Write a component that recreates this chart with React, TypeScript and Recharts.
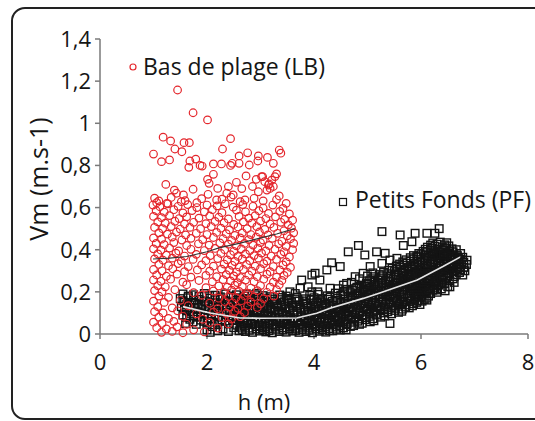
import { ComposedChart, Scatter, XAxis, YAxis } from 'recharts'

const FONT = '"Open Sans", sans-serif'
const RED = '#e4262c'
const INK = '#141414'
const AXIS = '#7a7a7a'

const xTicks = [0, 2, 4, 6, 8]
const yTicks = [0, 0.2, 0.4, 0.6, 0.8, 1, 1.2, 1.4]

// Bas de plage (LB) : [h, Vm]
const lbPoints: [number, number][] = [
  [1.45,1.158],[1.74,1.05],[2.01,1.016],[1.18,0.934],[1.32,0.916],[1.40,0.878],[1.57,0.908],[1.67,0.908],
  [1.53,0.865],[1.00,0.854],[1.15,0.818],[1.30,0.826],[1.68,0.821],[1.66,0.791],[1.79,0.83],[1.87,0.80],
  [1.91,0.797],[2.12,0.807],[2.27,0.807],[2.44,0.927],[2.29,0.878],[2.44,0.80],[2.47,0.81],[2.60,0.845],
  [2.76,0.86],[2.96,0.845],[2.95,0.821],[3.13,0.838],[3.24,0.81],[3.35,0.873],[3.38,0.858],[2.60,0.81],
  [2.79,0.802],[1.23,0.71],[1.39,0.683],[1.43,0.668],[1.74,0.687],[2.01,0.734],[2.04,0.715],[2.12,0.758],
  [2.20,0.691],[2.37,0.668],[2.49,0.66],[2.73,0.75],[2.92,0.734],[3.04,0.747],[3.16,0.712],[3.24,0.70],
  [3.30,0.76],[3.35,0.655],[3.12,0.683],[2.96,0.675],[1.59,0.633],[1.06,0.623],[1.81,0.623],[2.02,0.663],
  [2.71,0.636],[3.02,0.747],[3.08,0.723],[3.15,0.707],[3.21,0.73],[3.18,0.691],[3.27,0.747],[1.25,0.62],
  [1.56,0.66],[2.28,0.64],[2.40,0.70],[2.55,0.72],[2.85,0.70],[2.65,0.69],
  [1.02,0.645],[1.10,0.632],[1.33,0.648],[1.52,0.628],[1.90,0.642],[2.18,0.636],[2.45,0.65],[2.62,0.628],
  [2.88,0.644],[3.05,0.632],[3.30,0.638],[3.48,0.62],
  [0.99,0.612],[1.12,0.604],[1.27,0.618],[1.46,0.606],[1.64,0.614],[1.81,0.6],[2.00,0.612],[2.19,0.608],
  [2.34,0.618],[2.49,0.602],[2.67,0.614],[2.86,0.606],[3.05,0.598],[3.23,0.612],[3.42,0.596],
  [1.05,0.585],[1.20,0.578],[1.38,0.59],[1.55,0.575],[1.72,0.586],[1.95,0.58],[2.10,0.59],[2.28,0.576],
  [2.55,0.588],[2.72,0.58],[2.97,0.585],[3.15,0.572],[3.36,0.582],[3.54,0.57],
  [1.00,0.558],[1.15,0.552],[1.30,0.562],[1.48,0.548],[1.62,0.556],[1.85,0.55],[2.05,0.56],[2.22,0.554],
  [2.40,0.546],[2.60,0.558],[2.78,0.55],[2.90,0.562],[3.10,0.548],[3.28,0.556],[3.45,0.544],
  [1.08,0.532],[1.22,0.526],[1.40,0.535],[1.58,0.522],[1.75,0.53],[1.98,0.524],[2.15,0.534],[2.32,0.528],
  [2.50,0.52],[2.68,0.532],[2.84,0.526],[3.00,0.536],[3.18,0.522],[3.38,0.53],[3.52,0.518],[3.60,0.54],
  [1.02,0.506],[1.17,0.5],[1.33,0.51],[1.50,0.498],[1.68,0.506],[1.88,0.5],[2.08,0.51],[2.26,0.502],
  [2.42,0.494],[2.58,0.508],[2.75,0.5],[2.93,0.51],[3.08,0.496],[3.25,0.506],[3.44,0.49],[3.58,0.502],
  [1.10,0.48],[1.26,0.474],[1.43,0.484],[1.60,0.47],[1.80,0.478],[2.00,0.472],[2.18,0.482],[2.36,0.476],
  [2.52,0.468],[2.66,0.48],[2.82,0.472],[2.98,0.484],[3.14,0.47],[3.32,0.478],[3.50,0.466],[3.62,0.48],
  [1.00,0.456],[1.15,0.45],[1.35,0.46],[1.53,0.446],[1.70,0.454],[1.92,0.448],[2.12,0.458],[2.30,0.452],
  [2.46,0.444],[2.62,0.456],[2.78,0.448],[2.92,0.46],[3.05,0.446],[3.22,0.454],[3.40,0.44],[3.56,0.452],
  [1.05,0.43],[1.20,0.424],[1.38,0.434],[1.62,0.42],[1.84,0.428],[2.04,0.422],[2.24,0.432],[2.40,0.426],
  [2.55,0.418],[2.70,0.43],[2.86,0.422],[3.00,0.434],[3.16,0.42],[3.34,0.428],[3.48,0.416],[3.62,0.43],
  [1.00,0.404],[1.14,0.398],[1.30,0.408],[1.47,0.394],[1.70,0.402],[1.95,0.396],[2.15,0.406],[2.33,0.4],
  [2.50,0.392],[2.64,0.404],[2.80,0.396],[2.95,0.408],[3.10,0.394],[3.27,0.402],[3.44,0.39],[3.60,0.4],
  [1.08,0.38],[1.24,0.374],[1.42,0.384],[1.58,0.37],[1.80,0.378],[2.06,0.372],[2.26,0.382],[2.44,0.376],
  [2.58,0.368],[2.72,0.38],[2.88,0.372],[3.02,0.384],[3.20,0.37],[3.38,0.378],[3.54,0.366],
  [1.02,0.356],[1.18,0.35],[1.35,0.36],[1.52,0.346],[1.74,0.354],[1.98,0.348],[2.20,0.358],[2.38,0.352],
  [2.52,0.344],[2.66,0.356],[2.80,0.348],[2.96,0.36],[3.12,0.346],[3.30,0.354],[3.48,0.342],
  [1.10,0.33],[1.28,0.324],[1.46,0.334],[1.65,0.32],[1.90,0.328],[2.12,0.322],[2.32,0.332],[2.47,0.326],
  [2.60,0.318],[2.74,0.33],[2.90,0.322],[3.06,0.334],[3.24,0.32],[3.42,0.328],[3.56,0.316],
  [1.00,0.306],[1.16,0.3],[1.36,0.31],[1.58,0.296],[1.82,0.304],[2.05,0.298],[2.27,0.308],[2.42,0.302],
  [2.55,0.294],[2.68,0.306],[2.84,0.298],[3.00,0.31],[3.18,0.296],[3.36,0.304],[3.50,0.292],
  [1.06,0.28],[1.24,0.274],[1.44,0.284],[1.70,0.27],[1.98,0.278],[2.18,0.272],[2.36,0.282],[2.50,0.276],
  [2.62,0.268],[2.78,0.28],[2.94,0.272],[3.12,0.284],[3.30,0.27],[3.44,0.278],
  [1.00,0.256],[1.14,0.25],[1.32,0.26],[1.55,0.246],[1.85,0.254],[2.10,0.248],[2.30,0.258],[2.44,0.252],
  [2.57,0.244],[2.72,0.256],[2.88,0.248],[3.06,0.26],[3.24,0.246],[3.40,0.254],
  [1.08,0.23],[1.22,0.224],[1.62,0.234],[1.98,0.22],[2.22,0.228],[2.38,0.222],[2.52,0.232],[2.66,0.226],
  [2.82,0.218],[3.00,0.23],[3.18,0.222],[3.35,0.234],
  [1.02,0.206],[1.16,0.2],[1.40,0.21],[1.75,0.196],[2.12,0.204],[2.32,0.198],[2.46,0.208],[2.60,0.202],
  [2.76,0.194],[2.94,0.206],[3.12,0.198],[3.30,0.21],
  [1.10,0.18],[1.28,0.174],[1.90,0.184],[2.22,0.17],[2.40,0.178],[2.54,0.172],[2.70,0.182],[2.88,0.176],
  [3.06,0.168],[3.25,0.18],
  [1.00,0.156],[1.20,0.15],[1.50,0.16],[2.05,0.146],[2.33,0.154],[2.48,0.148],[2.64,0.158],[2.82,0.152],[3.00,0.144],
  [1.08,0.13],[1.35,0.124],[1.65,0.134],[2.20,0.12],[2.42,0.128],[2.58,0.122],[2.76,0.132],[2.94,0.126],
  [1.02,0.106],[1.18,0.1],[1.45,0.11],[1.80,0.096],[2.12,0.104],[2.36,0.098],[2.52,0.108],[2.70,0.102],
  [1.10,0.08],[1.28,0.074],[1.55,0.084],[1.92,0.07],[2.28,0.078],[2.46,0.072],[2.62,0.082],
  [1.00,0.056],[1.16,0.05],[1.38,0.06],[1.62,0.046],[2.05,0.054],[2.40,0.048],
  [1.06,0.03],[1.24,0.024],[1.44,0.034],[1.75,0.02],[2.20,0.028],
  [1.15,0.008],[1.35,0.012],[1.55,0.006],[1.95,0.01],
]

// Petits Fonds (PF) : [h, Vm]
const pfPoints: [number, number][] = [
  [1.55,0.19],[1.75,0.186],[1.95,0.192],[2.15,0.184],[2.35,0.19],[2.55,0.186],
  [1.50,0.168],[1.65,0.172],[1.85,0.164],[2.05,0.17],[2.25,0.166],[2.45,0.174],[2.65,0.168],
  [1.58,0.15],[1.78,0.146],[1.98,0.154],[2.18,0.148],[2.38,0.152],[2.58,0.144],
  [1.52,0.13],[1.70,0.126],[1.90,0.134],[2.10,0.128],[2.30,0.132],[2.50,0.124],[2.70,0.13],
  [1.62,0.11],[1.82,0.106],[2.02,0.114],[2.22,0.108],[2.42,0.112],[2.62,0.104],
  [1.55,0.09],[1.75,0.086],[1.95,0.094],[2.15,0.088],[2.35,0.092],[2.55,0.084],
  [1.68,0.07],[1.88,0.066],[2.08,0.072],[2.28,0.068],[2.48,0.064],
  [1.60,0.05],[1.80,0.046],[2.00,0.052],[2.20,0.044],[2.40,0.05],
  [2.00,0.02],[2.06,0.008],[2.30,0.024],[2.50,0.03],
  [1.65,0.18],[1.85,0.178],[2.05,0.182],[2.25,0.176],[2.45,0.18],[1.55,0.158],[1.75,0.16],[1.95,0.156],
  [2.15,0.162],[2.35,0.158],[2.55,0.16],[1.62,0.14],[1.82,0.138],[2.02,0.142],[2.22,0.136],[2.42,0.14],
  [1.58,0.118],[1.78,0.12],[1.98,0.116],[2.18,0.122],[2.38,0.118],[2.58,0.12],[1.68,0.098],[1.88,0.1],
  [2.08,0.096],[2.28,0.102],[2.48,0.098],[1.62,0.078],[1.82,0.08],[2.02,0.076],[2.22,0.082],[2.42,0.078],
  [1.74,0.058],[1.94,0.06],[2.14,0.056],[2.34,0.062],[2.10,0.035],[2.20,0.015],[2.40,0.012],[2.60,0.015],
  [2.72,0.012],[2.85,0.008],[2.98,0.014],[3.10,0.01],[3.22,0.006],[3.35,0.012],[3.48,0.009],[3.60,0.014],
  [3.72,0.008],[3.85,0.012],[3.97,0.006],[4.10,0.013],[4.22,0.009],[4.35,0.015],
  [2.66,0.022],[2.79,0.018],[2.92,0.024],[3.04,0.02],[3.16,0.016],[3.29,0.023],[3.42,0.019],[3.54,0.025],
  [3.66,0.017],[3.78,0.022],[3.91,0.018],[4.04,0.024],[4.16,0.02],[4.29,0.016],[4.42,0.023],[4.60,0.02],
  [2.62,0.032],[2.78,0.028],[2.92,0.035],[3.04,0.03],[3.16,0.026],[3.28,0.033],[3.42,0.029],[3.54,0.035],
  [3.66,0.027],[3.79,0.032],[3.91,0.028],[4.03,0.034],[4.16,0.03],[4.28,0.026],[4.41,0.033],[4.55,0.029],[4.68,0.036],
  [2.56,0.042],[2.70,0.038],[2.85,0.045],[2.98,0.04],[3.10,0.036],[3.22,0.043],[3.35,0.039],[3.48,0.045],
  [3.60,0.037],[3.72,0.042],[3.85,0.038],[3.97,0.044],[4.10,0.04],[4.22,0.036],[4.35,0.043],[4.48,0.039],
  [4.61,0.045],[4.74,0.04],[4.85,0.046],
  [2.68,0.052],[2.82,0.048],[2.96,0.055],[3.10,0.05],[3.24,0.046],[3.38,0.054],[3.50,0.049],[3.62,0.056],
  [3.75,0.047],[3.88,0.052],[4.00,0.048],[4.12,0.055],[4.25,0.05],[4.38,0.046],[4.50,0.053],[4.62,0.049],
  [4.75,0.056],[4.90,0.051],[5.05,0.058],
  [2.62,0.062],[2.76,0.058],[2.89,0.065],[3.03,0.06],[3.17,0.056],[3.31,0.063],[3.44,0.059],[3.56,0.066],
  [3.69,0.057],[3.82,0.062],[3.94,0.058],[4.06,0.065],[4.19,0.06],[4.32,0.056],[4.44,0.063],[4.56,0.059],
  [4.69,0.066],[4.82,0.061],[4.96,0.068],[5.12,0.063],
  [2.60,0.072],[2.74,0.068],[2.88,0.075],[3.02,0.07],[3.14,0.066],[3.28,0.073],[3.44,0.069],[3.56,0.076],
  [3.70,0.067],[3.82,0.072],[3.95,0.068],[4.07,0.075],[4.20,0.07],[4.33,0.066],[4.46,0.073],[4.58,0.069],
  [4.70,0.076],[4.84,0.071],[4.97,0.078],[5.10,0.073],[5.25,0.08],
  [2.54,0.082],[2.68,0.078],[2.81,0.085],[2.95,0.08],[3.08,0.076],[3.21,0.083],[3.36,0.079],[3.50,0.086],
  [3.63,0.077],[3.76,0.082],[3.89,0.078],[4.01,0.085],[4.14,0.08],[4.27,0.076],[4.40,0.083],[4.52,0.079],
  [4.64,0.086],[4.77,0.081],[4.90,0.088],[5.04,0.084],[5.17,0.09],[5.32,0.086],
  [2.66,0.092],[2.80,0.088],[2.94,0.095],[3.08,0.09],[3.20,0.086],[3.34,0.093],[3.48,0.089],[3.62,0.096],
  [3.76,0.087],[3.90,0.092],[4.02,0.088],[4.15,0.095],[4.28,0.09],[4.40,0.086],[4.52,0.093],[4.65,0.089],
  [4.78,0.096],[4.92,0.091],[5.04,0.098],[5.18,0.094],[5.30,0.1],[5.45,0.096],[5.58,0.103],
  [2.60,0.102],[2.74,0.098],[2.88,0.105],[3.01,0.1],[3.14,0.096],[3.27,0.103],[3.41,0.099],[3.55,0.106],
  [3.69,0.097],[3.83,0.102],[3.96,0.098],[4.09,0.105],[4.22,0.1],[4.34,0.096],[4.46,0.103],[4.59,0.099],
  [4.71,0.106],[4.85,0.101],[4.98,0.108],[5.11,0.104],[5.24,0.11],[5.38,0.106],[5.51,0.112],[5.64,0.108],
  [2.58,0.112],[2.72,0.108],[2.86,0.115],[3.00,0.11],[3.12,0.106],[3.26,0.113],[3.40,0.109],[3.54,0.116],
  [3.68,0.107],[3.82,0.112],[3.96,0.108],[4.10,0.115],[4.24,0.11],[4.36,0.106],[4.48,0.113],[4.60,0.109],
  [4.73,0.116],[4.86,0.111],[5.00,0.118],[5.12,0.114],[5.25,0.12],[5.38,0.116],[5.52,0.122],[5.65,0.118],[5.78,0.124],
  [2.65,0.122],[2.79,0.118],[2.93,0.125],[3.07,0.12],[3.19,0.116],[3.33,0.123],[3.47,0.119],[3.61,0.126],
  [3.75,0.117],[3.89,0.122],[4.03,0.118],[4.17,0.125],[4.30,0.12],[4.42,0.116],[4.54,0.123],[4.66,0.119],
  [4.79,0.126],[4.92,0.121],[5.06,0.128],[5.18,0.124],[5.31,0.13],[5.45,0.126],[5.58,0.132],[5.71,0.128],[5.84,0.134],
  [2.64,0.132],[2.78,0.128],[2.92,0.135],[3.06,0.13],[3.18,0.126],[3.32,0.133],[3.46,0.129],[3.60,0.136],
  [3.74,0.127],[3.88,0.132],[4.00,0.128],[4.14,0.135],[4.30,0.13],[4.44,0.126],[4.56,0.133],[4.68,0.129],
  [4.82,0.136],[4.95,0.131],[5.08,0.138],[5.20,0.134],[5.34,0.14],[5.48,0.136],[5.60,0.142],[5.72,0.138],
  [5.86,0.144],[5.98,0.14],
  [2.57,0.142],[2.71,0.138],[2.85,0.145],[2.99,0.14],[3.12,0.136],[3.25,0.143],[3.39,0.139],[3.53,0.146],
  [3.67,0.137],[3.81,0.142],[3.94,0.138],[4.07,0.145],[4.22,0.14],[4.37,0.136],[4.50,0.143],[4.62,0.139],
  [4.75,0.146],[4.88,0.141],[5.01,0.148],[5.14,0.144],[5.27,0.15],[5.41,0.146],[5.54,0.152],[5.66,0.148],
  [5.79,0.154],[5.92,0.15],[6.02,0.156],
  [2.70,0.152],[2.84,0.148],[3.00,0.155],[3.14,0.15],[3.30,0.146],[3.44,0.153],[3.58,0.149],[3.72,0.156],
  [3.86,0.147],[4.05,0.152],[4.20,0.148],[4.34,0.155],[4.50,0.15],[4.62,0.146],[4.76,0.153],[4.90,0.149],
  [5.02,0.156],[5.15,0.151],[5.28,0.158],[5.42,0.154],[5.56,0.16],[5.68,0.156],[5.82,0.162],[5.94,0.158],[6.06,0.164],
  [2.66,0.162],[2.77,0.158],[2.92,0.165],[3.07,0.16],[3.22,0.156],[3.37,0.163],[3.51,0.159],[3.65,0.166],
  [3.79,0.157],[3.95,0.162],[4.12,0.158],[4.27,0.165],[4.42,0.16],[4.56,0.156],[4.69,0.163],[4.83,0.159],
  [4.96,0.166],[5.08,0.161],[5.21,0.168],[5.35,0.164],[5.49,0.17],[5.61,0.166],[5.75,0.172],[5.88,0.168],
  [6.00,0.174],[6.10,0.17],
  [2.62,0.172],[2.80,0.168],[2.96,0.175],[3.12,0.17],[3.26,0.166],[3.40,0.173],[3.52,0.169],[3.68,0.174],
  [3.84,0.167],[4.00,0.172],[4.16,0.168],[4.30,0.175],[4.44,0.17],[4.58,0.166],[4.72,0.173],[4.86,0.169],
  [4.98,0.176],[5.10,0.171],[5.24,0.178],[5.38,0.174],[5.52,0.18],[5.64,0.176],[5.78,0.182],[5.90,0.178],
  [6.02,0.184],[6.14,0.18],
  [2.70,0.18],[3.05,0.182],[3.48,0.18],[3.92,0.183],[4.25,0.181],[4.50,0.184],[4.64,0.18],[4.77,0.186],
  [4.90,0.182],[5.02,0.188],[5.15,0.184],[5.28,0.19],[5.42,0.186],[5.55,0.192],[5.68,0.188],[5.81,0.194],
  [5.94,0.19],[6.06,0.196],[6.18,0.192],[6.30,0.198],
  [2.74,0.19],[2.90,0.186],[3.65,0.192],[4.08,0.188],[4.40,0.194],[4.54,0.19],[4.68,0.196],[4.82,0.192],
  [4.94,0.198],[5.06,0.194],[5.20,0.2],[5.34,0.196],[5.48,0.202],[5.60,0.198],[5.74,0.204],[5.86,0.2],
  [5.98,0.206],[6.10,0.202],[6.22,0.208],
  [4.56,0.202],[4.72,0.206],[4.86,0.203],[4.99,0.208],[5.12,0.204],[5.25,0.21],[5.39,0.206],[5.52,0.212],
  [5.65,0.208],[5.78,0.214],[5.90,0.21],[6.02,0.216],[6.14,0.212],[6.26,0.218],[6.38,0.214],
  [4.62,0.212],[4.78,0.216],[4.92,0.213],[5.04,0.218],[5.16,0.214],[5.30,0.22],[5.44,0.216],[5.56,0.222],
  [5.70,0.218],[5.82,0.224],[5.94,0.22],[6.06,0.226],[6.18,0.222],[6.30,0.228],
  [4.80,0.222],[4.96,0.226],[5.08,0.223],[5.21,0.228],[5.34,0.224],[5.47,0.23],[5.60,0.226],[5.72,0.232],
  [5.85,0.228],[5.97,0.234],[6.09,0.23],[6.21,0.236],[6.33,0.232],[6.44,0.238],
  [4.88,0.232],[5.00,0.236],[5.12,0.233],[5.26,0.238],[5.40,0.234],[5.52,0.24],[5.66,0.236],[5.78,0.242],
  [5.90,0.238],[6.02,0.244],[6.14,0.24],[6.26,0.246],[6.38,0.242],
  [4.98,0.242],[5.14,0.246],[5.28,0.243],[5.42,0.248],[5.56,0.244],[5.68,0.25],[5.80,0.246],[5.92,0.252],
  [6.04,0.248],[6.16,0.254],[6.28,0.25],[6.40,0.256],[6.53,0.252],
  [5.04,0.252],[5.20,0.256],[5.34,0.253],[5.48,0.258],[5.62,0.254],[5.74,0.26],[5.86,0.256],[5.98,0.262],
  [6.10,0.258],[6.22,0.264],[6.34,0.26],[6.46,0.266],[6.60,0.262],
  [5.08,0.262],[5.24,0.266],[5.40,0.263],[5.54,0.268],[5.66,0.264],[5.78,0.27],[5.90,0.266],[6.02,0.272],
  [6.14,0.268],[6.26,0.274],[6.38,0.27],[6.50,0.276],[6.62,0.272],
  [5.12,0.272],[5.28,0.276],[5.44,0.273],[5.58,0.278],[5.70,0.274],[5.82,0.28],[5.94,0.276],[6.06,0.282],
  [6.18,0.278],[6.30,0.284],[6.42,0.28],[6.54,0.286],[6.66,0.282],
  [5.22,0.282],[5.38,0.286],[5.52,0.283],[5.66,0.288],[5.76,0.284],[5.88,0.29],[6.00,0.286],[6.12,0.292],
  [6.24,0.288],[6.36,0.294],[6.48,0.29],[6.60,0.296],[6.72,0.292],
  [5.30,0.292],[5.50,0.296],[5.64,0.293],[5.78,0.298],[5.90,0.294],[6.02,0.3],[6.14,0.296],[6.26,0.302],
  [6.38,0.298],[6.50,0.304],[6.62,0.3],[6.74,0.306],
  [5.40,0.302],[5.56,0.306],[5.70,0.303],[5.84,0.308],[5.96,0.304],[6.08,0.31],[6.20,0.306],[6.32,0.312],
  [6.44,0.308],[6.56,0.314],[6.68,0.31],[6.80,0.316],
  [5.46,0.312],[5.62,0.316],[5.76,0.313],[5.88,0.318],[6.00,0.314],[6.12,0.32],[6.24,0.316],[6.36,0.322],
  [6.48,0.318],[6.60,0.324],[6.72,0.32],
  [5.54,0.322],[5.68,0.326],[5.82,0.323],[5.94,0.328],[6.06,0.324],[6.18,0.33],[6.30,0.326],[6.42,0.332],
  [6.54,0.328],[6.66,0.334],[6.76,0.33],
  [5.60,0.332],[5.74,0.336],[5.88,0.333],[6.00,0.338],[6.12,0.334],[6.24,0.34],[6.36,0.336],[6.48,0.342],
  [6.60,0.338],[6.70,0.344],[6.80,0.34],
  [5.66,0.342],[5.80,0.346],[5.94,0.343],[6.06,0.348],[6.18,0.344],[6.30,0.35],[6.42,0.346],[6.54,0.352],
  [6.64,0.348],[6.75,0.354],
  [5.72,0.352],[5.86,0.356],[6.00,0.353],[6.12,0.358],[6.24,0.354],[6.36,0.36],[6.48,0.356],[6.58,0.362],
  [6.70,0.358],[6.78,0.364],
  [5.80,0.362],[5.94,0.366],[6.07,0.363],[6.20,0.368],[6.32,0.364],[6.44,0.37],[6.56,0.366],[6.68,0.372],
  [5.86,0.372],[6.00,0.376],[6.14,0.373],[6.26,0.378],[6.38,0.374],[6.50,0.38],[6.62,0.376],[6.74,0.382],
  [5.96,0.382],[6.10,0.386],[6.24,0.383],[6.36,0.388],[6.48,0.384],[6.60,0.39],
  [6.04,0.392],[6.18,0.396],[6.30,0.393],[6.42,0.398],[6.54,0.394],[6.66,0.4],
  [6.08,0.402],[6.20,0.406],[6.34,0.403],[6.46,0.408],[6.58,0.404],
  [6.12,0.412],[6.26,0.416],[6.40,0.413],[6.52,0.418],
  [6.18,0.422],[6.30,0.426],[6.44,0.423],
  [6.22,0.432],[6.36,0.436],[6.48,0.433],
  [6.50,0.225],[6.45,0.205],[6.62,0.245],[4.70,0.245],[4.85,0.262],[5.00,0.275],[5.10,0.29],[4.55,0.232],
  [4.45,0.215],[6.85,0.33],[6.86,0.35],[6.82,0.30],[6.78,0.28],
  [5.27,0.486],[5.61,0.47],[5.89,0.478],[6.11,0.478],[6.26,0.478],[6.34,0.50],[4.83,0.42],[4.64,0.39],
  [4.95,0.375],[5.17,0.39],[5.33,0.383],[5.67,0.42],[5.83,0.438],[4.33,0.338],[4.49,0.32],[4.24,0.304],
  [4.02,0.288],[3.96,0.28],[3.77,0.256],[4.11,0.256],[3.74,0.217],[3.96,0.20],[4.30,0.217],[4.61,0.24],
  [4.77,0.272],[4.92,0.288],[5.05,0.32],[5.27,0.335],[5.42,0.351],[5.55,0.359],[5.92,0.367],[6.42,0.375],
  [6.54,0.224],[6.29,0.209],[6.11,0.161],[5.42,0.05],[5.11,0.106],[4.49,0.019],[2.93,0.193],[3.18,0.177],
  [3.36,0.185],[3.55,0.20],[3.89,0.224],[4.07,0.20],
]

// trend curves
const lbTrend: [number, number][] = [
  [0.99,0.356],[1.3,0.36],[1.62,0.368],[2.0,0.39],[2.24,0.41],[2.6,0.43],[2.99,0.455],[3.3,0.475],[3.64,0.5],
]
const pfTrend: [number, number][] = [
  [1.55,0.13],[2.06,0.1],[2.62,0.076],[3.0,0.075],[3.68,0.076],[4.05,0.098],[4.3,0.122],[4.92,0.169],
  [5.23,0.195],[5.93,0.256],[6.41,0.32],[6.73,0.365],
]

const toRows = (pts: [number, number][]) => pts.map(([h, v]) => ({ h, v }))

const fmtY = (v: number) => String(v).replace('.', ',')

function Ring(props: any) {
  const { cx, cy } = props
  return <circle cx={cx} cy={cy} r={3.8} fill="none" stroke={RED} strokeWidth={1.2} />
}

function Box(props: any) {
  const { cx, cy } = props
  return <rect x={cx - 3.8} y={cy - 3.8} width={7.6} height={7.6} fill="none" stroke={INK} strokeWidth={1.4} />
}

const NoDot = () => <g />

const tickStyle = { fontSize: 22, fill: '#151515', fontFamily: FONT }

export default function App() {
  return (
    <div style={{ position: 'absolute', left: 0, top: 0, width: 535, height: 421, overflow: 'hidden', background: '#fff' }}>
      <div
        style={{
          position: 'absolute',
          left: 11,
          top: 7,
          width: 600,
          height: 413,
          boxSizing: 'border-box',
          border: '2px solid #222',
          borderRadius: 14,
        }}
      />
      <div style={{ position: 'absolute', left: 0, top: 0 }}>
        <ComposedChart width={535} height={421} margin={{ top: 39, right: 7, bottom: 0, left: 0 }}>
          <XAxis
            type="number"
            dataKey="h"
            domain={[0, 8]}
            ticks={xTicks}
            height={87}
            tickSize={5}
            tickMargin={15}
            axisLine={{ stroke: AXIS, strokeWidth: 1.5 }}
            tickLine={{ stroke: AXIS, strokeWidth: 1.5 }}
            tick={tickStyle}
            interval={0}
          />
          <YAxis
            type="number"
            dataKey="v"
            domain={[0, 1.4]}
            ticks={yTicks}
            width={100}
            tickSize={5}
            tickMargin={4}
            tickFormatter={fmtY}
            axisLine={{ stroke: AXIS, strokeWidth: 1.5 }}
            tickLine={{ stroke: AXIS, strokeWidth: 1.5 }}
            tick={tickStyle}
            interval={0}
          />
          <Scatter data={toRows(pfPoints)} dataKey="v" shape={Box} isAnimationActive={false} />
          <Scatter data={toRows(lbPoints)} dataKey="v" shape={Ring} isAnimationActive={false} />
          <Scatter
            data={toRows(lbTrend)}
            dataKey="v"
            line={{ stroke: '#333', strokeWidth: 1.1 }}
            lineType="joint"
            shape={NoDot}
            isAnimationActive={false}
          />
          <Scatter
            data={toRows(pfTrend)}
            dataKey="v"
            line={{ stroke: '#e6e6e6', strokeWidth: 1.6 }}
            lineType="joint"
            shape={NoDot}
            isAnimationActive={false}
          />
        </ComposedChart>
      </div>
      <svg width={535} height={421} style={{ position: 'absolute', left: 0, top: 0, pointerEvents: 'none' }}>
        <g fontFamily={FONT} fill="#151515">
          <circle cx={133} cy={67} r={3} fill="none" stroke={RED} strokeWidth={1.2} />
          <text x={143} y={75} fontSize={23}>Bas de plage (LB)</text>
          <rect x={339.5} y={198.5} width={7} height={7} fill="none" stroke={INK} strokeWidth={1.2} />
          <text x={355} y={208} fontSize={23}>Petits Fonds (PF)</text>
          <text transform="translate(48,179) rotate(-90)" textAnchor="middle" fontSize={25}>Vm (m.s-1)</text>
          <text x={264} y={410} textAnchor="middle" fontSize={22}>h (m)</text>
        </g>
      </svg>
    </div>
  )
}
